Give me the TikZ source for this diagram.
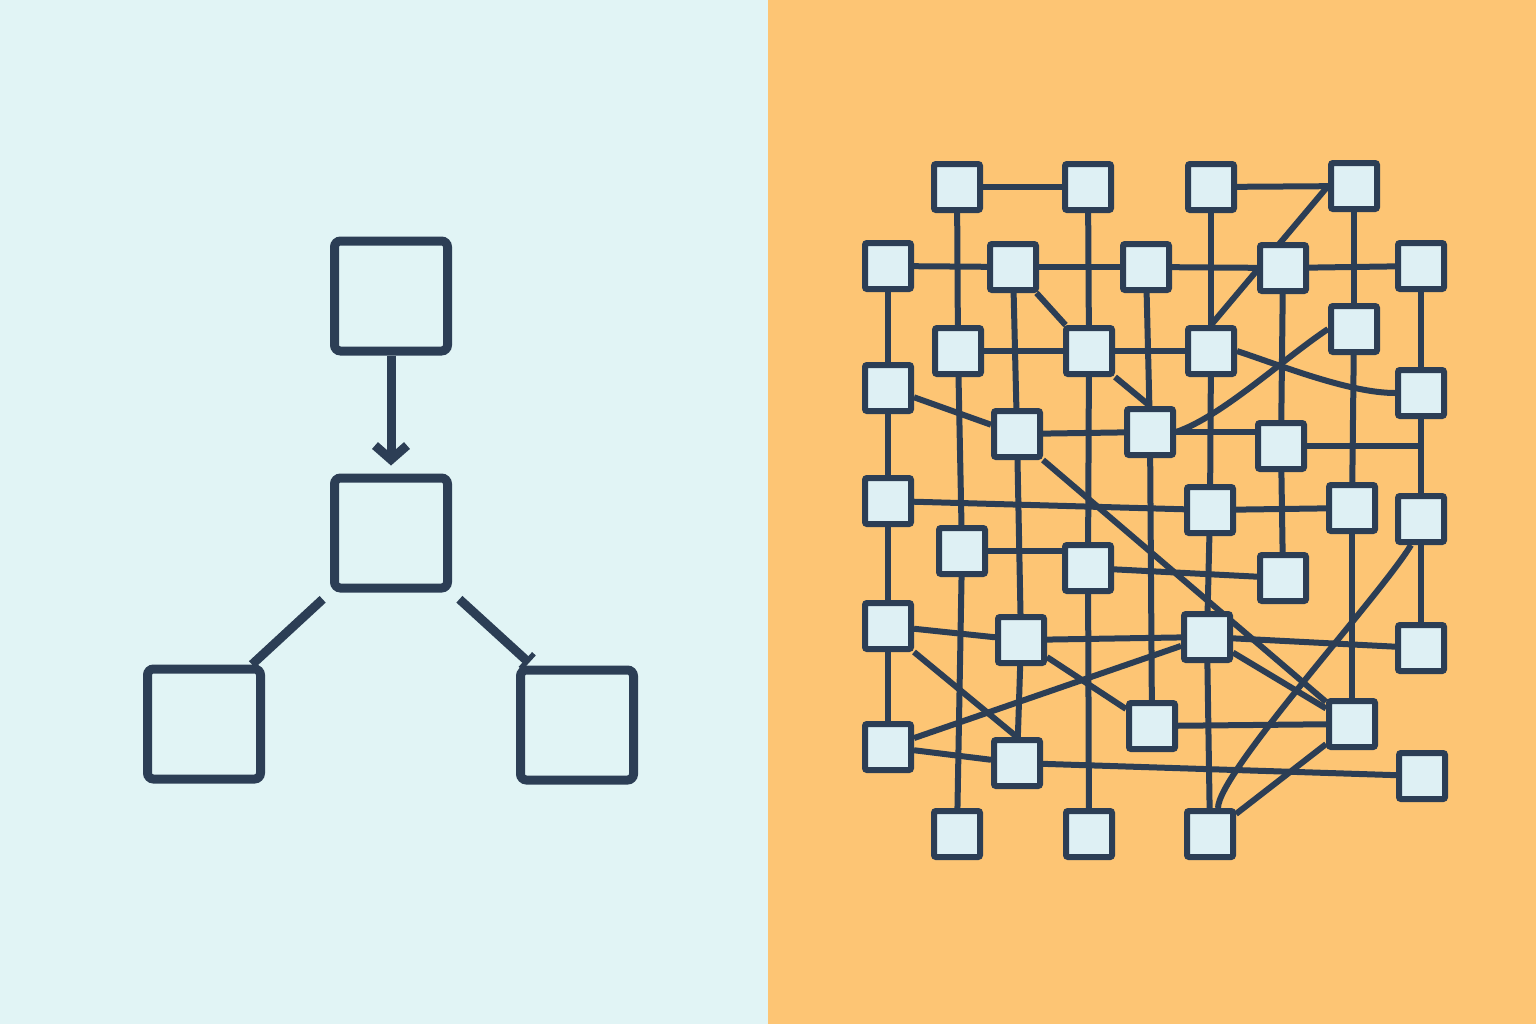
\documentclass[tikz,border=0pt]{standalone}
\usetikzlibrary{arrows.meta,backgrounds}
\definecolor{ink}{HTML}{2C3E55}
\definecolor{leftbg}{HTML}{E1F4F5}
\definecolor{rightbg}{HTML}{FDC574}
\definecolor{cellfill}{HTML}{DEF0F4}
\tikzset{
  box/.style={draw=ink, line width=9bp, fill=leftbg, rounded corners=6bp,
    minimum width=113bp, minimum height=110bp, inner sep=0pt},
  cell/.style={draw=ink, line width=6bp, fill=cellfill, rounded corners=2bp,
    minimum size=46bp, inner sep=0pt},
  flow/.style={draw=ink, line width=9bp},
  link/.style={draw=ink, line width=6bp},
}
\begin{document}
\begin{tikzpicture}[x=1bp,y=-1bp]
                \useasboundingbox (0,0) rectangle (1536,1024);
                \node[box] (top) at (391,296) {};
                \node[box] (mid) at (391,533) {};
                \node[box] (lft) at (204,724) {};
                \node[box] (rgt) at (577,725) {};
                \node[cell] (a1) at (957,187) {};
                \node[cell] (a2) at (1088,187) {};
                \node[cell] (a3) at (1211,187) {};
                \node[cell] (a4) at (1354,186) {};
                \node[cell] (b1) at (888,266) {};
                \node[cell] (b2) at (1013,267) {};
                \node[cell] (b3) at (1146,267) {};
                \node[cell] (b4) at (1283,268) {};
                \node[cell] (b5) at (1421,266) {};
                \node[cell] (c1) at (958,351) {};
                \node[cell] (c2) at (1089,351) {};
                \node[cell] (c3) at (1211,351) {};
                \node[cell] (c4) at (1354,329) {};
                \node[cell] (d1) at (888,388) {};
                \node[cell] (d5) at (1421,393) {};
                \node[cell] (e1) at (1017,434) {};
                \node[cell] (e2) at (1150,432) {};
                \node[cell] (e3) at (1281,446) {};
                \node[cell] (f1) at (888,501) {};
                \node[cell] (f2) at (1210,510) {};
                \node[cell] (f3) at (1352,508) {};
                \node[cell] (f4) at (1421,519) {};
                \node[cell] (g1) at (962,551) {};
                \node[cell] (g2) at (1088,568) {};
                \node[cell] (g3) at (1283,578) {};
                \node[cell] (h1) at (888,626) {};
                \node[cell] (h2) at (1021,640) {};
                \node[cell] (h3) at (1207,637) {};
                \node[cell] (h4) at (1421,648) {};
                \node[cell] (i1) at (1152,726) {};
                \node[cell] (i2) at (1352,724) {};
                \node[cell] (i3) at (888,747) {};
                \node[cell] (i4) at (1017,763) {};
                \node[cell] (i5) at (1422,776) {};
                \node[cell] (j1) at (957,834) {};
                \node[cell] (j2) at (1089,834) {};
                \node[cell] (j3) at (1210,834) {};
                \begin{scope}[on background layer]
                \fill[leftbg] (0,0) rectangle (768,1024);
                \fill[rightbg] (768,0) rectangle (1536,1024);
                \draw[flow,-{Straight Barb[length=14bp,width=32bp]},shorten >=8bp] (top) -- (mid);
                \draw[flow,shorten <=10bp] (mid.south west) -- ([xshift=-13bp]lft.north east);
                \draw[flow,-{Bar[width=20bp,line width=5bp]},shorten <=10bp,shorten >=4bp] (mid.south east) -- ([xshift=16bp]rgt.north west);
                \draw[link] (a1) -- (a2);
                \draw[link] (a3) -- (a4);
                \draw[link] (a1) -- (c1);
                \draw[link] (a2) -- (c2);
                \draw[link] (a3) -- (c3);
                \draw[link] (a4) -- (c4);
                \draw[link] (a4.west) -- (c3.north);
                \draw[link] (b1) -- (b2);
                \draw[link] (b2) -- (b3);
                \draw[link] (b3) -- (b4);
                \draw[link] (b4) -- (b5);
                \draw[link] (b1) -- (d1);
                \draw[link] (b2) -- (c2);
                \draw[link] (b2) -- (e1);
                \draw[link] (b3) -- (e2);
                \draw[link] (b4) -- (e3);
                \draw[link] (b5) -- (d5);
                \draw[link] (c1) -- (c2);
                \draw[link] (c2) -- (c3);
                \draw[link] (c2.south east) -- (e2.north);
                \draw[link] (c3.east) .. controls +(45,15) and +(-45,0) .. (d5.west);
                \draw[link] (c4.west) .. controls +(-45,30) and +(45,-15) .. (e2.east);
                \draw[link] (c1) -- (g1);
                \draw[link] (c2) -- (g2);
                \draw[link] (c3) -- (f2);
                \draw[link] (c4) -- (f3);
                \draw[link] (d1) -- (e1);
                \draw[link] (d1) -- (f1);
                \draw[link] (d5) -- (f4);
                \draw[link] (e3) -- (e3 -| d5);
                \draw[link] (e1) -- (e2);
                \draw[link] (e2) -- (e2 -| e3);
                \draw[link] (e1) -- (h2);
                \draw[link] (e2) -- (i1);
                \draw[link] (e3) -- (g3);
                \draw[link] (e1.south east) -- (i2);
                \draw[link] (f1) -- (f2);
                \draw[link] (f2) -- (f3);
                \draw[link] (f2) -- (h3);
                \draw[link] (f3) -- (i2);
                \draw[link] (f4) -- (h4);
                \draw[link] ([xshift=-10bp]f4.south) .. controls +(-30,50) and +(0,-35) .. ([xshift=8bp]j3.north);
                \draw[link] (g1) -- (g1 -| g2);
                \draw[link] (g2) -- (g3);
                \draw[link] (g1) -- (j1);
                \draw[link] (g2) -- (j2);
                \draw[link] (f1) -- (h1);
                \draw[link] (h1) -- (i3);
                \draw[link] (h1) -- (h2);
                \draw[link] (h2) -- (h3);
                \draw[link] (h3) -- (h4);
                \draw[link] (h2) -- (i4);
                \draw[link] (h1.south east) -- (i4.north);
                \draw[link] (i3) -- (h3);
                \draw[link] (h2) -- (i1);
                \draw[link] (h3) -- (i2);
                \draw[link] (h3) -- (j3);
                \draw[link] (i1) -- (i2);
                \draw[link] (i2) -- (j3);
                \draw[link] (i3) -- (i4);
                \draw[link] (i4) -- (i5);
                \end{scope}
            \end{tikzpicture}
\end{document}
